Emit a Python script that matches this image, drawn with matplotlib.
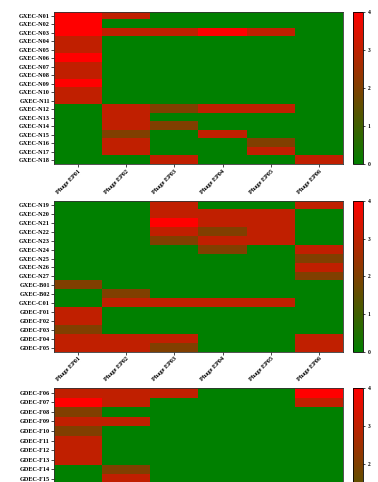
import numpy as np
import matplotlib
matplotlib.use('Agg')
import matplotlib.pyplot as plt
from matplotlib.colors import LinearSegmentedColormap

phages = ['Phage EP01', 'Phage EP02', 'Phage EP03', 'Phage EP04', 'Phage EP05', 'Phage EP06']

# panel 1
strains1 = ['GXEC-N01', 'GXEC-N02', 'GXEC-N03', 'GXEC-N04', 'GXEC-N05', 'GXEC-N06',
            'GXEC-N07', 'GXEC-N08', 'GXEC-N09', 'GXEC-N10', 'GXEC-N11', 'GXEC-N12',
            'GXEC-N13', 'GXEC-N14', 'GXEC-N15', 'GXEC-N16', 'GXEC-N17', 'GXEC-N18']
scores1 = [
    [4, 3, 0, 0, 0, 0],
    [4, 0, 0, 0, 0, 0],
    [4, 3, 3, 4, 3, 0],
    [3, 0, 0, 0, 0, 0],
    [3, 0, 0, 0, 0, 0],
    [4, 0, 0, 0, 0, 0],
    [3, 0, 0, 0, 0, 0],
    [3, 0, 0, 0, 0, 0],
    [4, 0, 0, 0, 0, 0],
    [3, 0, 0, 0, 0, 0],
    [3, 0, 0, 0, 0, 0],
    [0, 3, 2, 3, 3, 0],
    [0, 3, 0, 0, 0, 0],
    [0, 3, 2, 0, 0, 0],
    [0, 2, 0, 3, 0, 0],
    [0, 3, 0, 0, 2, 0],
    [0, 3, 0, 0, 3, 0],
    [0, 0, 3, 0, 0, 3],
]

# panel 2
strains2 = ['GXEC-N19', 'GXEC-N20', 'GXEC-N21', 'GXEC-N22', 'GXEC-N23', 'GXEC-N24',
            'GXEC-N25', 'GXEC-N26', 'GXEC-N27', 'GXEC-B01', 'GXEC-B02', 'GXEC-C01',
            'GDEC-F01', 'GDEC-F02', 'GDEC-F03', 'GDEC-F04', 'GDEC-F05']
scores2 = [
    [0, 0, 3, 0, 0, 3],
    [0, 0, 3, 3, 3, 0],
    [0, 0, 4, 3, 3, 0],
    [0, 0, 3, 2, 3, 0],
    [0, 0, 2, 3, 3, 0],
    [0, 0, 0, 2, 0, 3],
    [0, 0, 0, 0, 0, 2],
    [0, 0, 0, 0, 0, 3],
    [0, 0, 0, 0, 0, 2],
    [2, 0, 0, 0, 0, 0],
    [0, 2, 0, 0, 0, 0],
    [0, 3, 3, 3, 3, 0],
    [3, 0, 0, 0, 0, 0],
    [3, 0, 0, 0, 0, 0],
    [2, 0, 0, 0, 0, 0],
    [3, 3, 3, 0, 0, 3],
    [3, 3, 2, 0, 0, 3],
]

# panel 3 (only the rows visible in the picture)
strains3 = ['GDEC-F06', 'GDEC-F07', 'GDEC-F08', 'GDEC-F09', 'GDEC-F10',
            'GDEC-F11', 'GDEC-F12', 'GDEC-F13', 'GDEC-F14', 'GDEC-F15']
scores3 = [
    [3, 3, 3, 0, 0, 4],
    [4, 3, 0, 0, 0, 3],
    [2, 0, 0, 0, 0, 0],
    [3, 3, 0, 0, 0, 0],
    [2, 0, 0, 0, 0, 0],
    [3, 0, 0, 0, 0, 0],
    [3, 0, 0, 0, 0, 0],
    [3, 0, 0, 0, 0, 0],
    [0, 2, 0, 0, 0, 0],
    [0, 3, 0, 0, 0, 0],
]

cmap = LinearSegmentedColormap.from_list('gr', ['#008000', '#ff0000'])
font = {'family': 'Liberation Serif', 'weight': 'bold', 'size': 4.5}

W, H = 378, 482
fig = plt.figure(figsize=(W / 100, H / 100), dpi=100)

def box(x0, top, w, h):
    return [x0 / W, (H - top - h) / H, w / W, h / H]

# (top, heatmap height, colorbar height, show x labels, colorbar ticks) in pixels
panels = [
    (strains1, scores1, 11.7, 152.6, 152.6, True, [0, 1, 2, 3, 4]),
    (strains2, scores2, 200.7, 151.3, 151.3, True, [0, 1, 2, 3, 4]),
    (strains3, scores3, 388.0, 95.5, 152.0, False, [2, 3, 4]),  # runs off the bottom
]

for strains, scores, top, h, cb_h, show_x, cb_ticks in panels:
    ax = fig.add_axes(box(54, top, 289, h))
    im = ax.imshow(np.array(scores), cmap=cmap, vmin=0, vmax=4, aspect='auto',
                   interpolation='nearest')
    ax.set_yticks(range(len(strains)))
    ax.set_yticklabels(strains, fontdict=font)
    if show_x:
        ax.set_xticks(range(len(phages)))
        ax.set_xticklabels(phages, fontdict=font, rotation=45, ha='right', va='top',
                           rotation_mode='anchor')
    else:
        ax.set_xticks([])
    ax.tick_params(length=2, width=0.5, pad=1)
    for s in ax.spines.values():
        s.set_linewidth(0.6)
        s.set_color('#333333')

    cax = fig.add_axes(box(353, top, 10, cb_h))
    cb = fig.colorbar(im, cax=cax, ticks=cb_ticks)
    cb.ax.tick_params(length=1.5, width=0.5, pad=2, labelsize=4)
    for t in cb.ax.get_yticklabels():
        t.set_fontfamily('Liberation Serif')
        t.set_fontweight('bold')
    cb.outline.set_linewidth(0.6)

fig.savefig('out.png', dpi=100)
